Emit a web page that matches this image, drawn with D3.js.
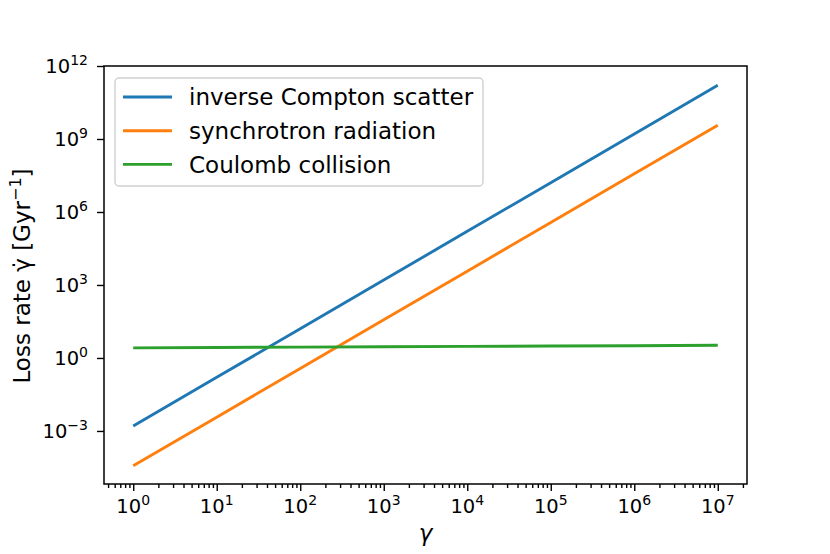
<!DOCTYPE html>
<html>
<head>
<meta charset="utf-8">
<script src="https://cdn.jsdelivr.net/npm/d3@7"></script>
<style>
  body { margin: 0; background: #fff; }
  svg { font-family: "DejaVu Sans", sans-serif; }
</style>
</head>
<body>
<svg id="chart" width="830" height="554"></svg>
<script>
// values, one per decade of gamma
const gammas = [1, 1e1, 1e2, 1e3, 1e4, 1e5, 1e6, 1e7];
const inverseCompton = [1.6e-3, 0.16, 16, 1.6e3, 1.6e5, 1.6e7, 1.6e9, 1.6e11];
const synchrotron = [3.7e-5, 3.7e-3, 0.37, 37, 3.7e3, 3.7e5, 3.7e7, 3.7e9];
const coulomb = [2.6, 2.7, 2.8, 2.9, 3.0, 3.1, 3.2, 3.35];

const seriesNames = ["inverse Compton scatter", "synchrotron radiation", "Coulomb collision"];
const seriesColors = ["#1f77b4", "#ff7f0e", "#2ca02c"];

const xTickExps = [0, 1, 2, 3, 4, 5, 6, 7];
const yTickExps = [-3, 0, 3, 6, 9, 12];

const svg = d3.select("#chart");
const plotLeft = 104, plotRight = 747, plotTop = 66, plotBottom = 484;

const xScale = d3.scaleLog()
  .domain([Math.pow(10, -0.35), Math.pow(10, 7.35)])
  .range([plotLeft, plotRight]);

const yScale = d3.scaleLog()
  .domain([Math.pow(10, -5.18), 1e12])
  .range([plotBottom, plotTop]);

const sup = (e) => String(e).replace("-", "\u2212");

// minor ticks on x: 2..9 x 10^k inside the domain
const minorX = [];
for (let k = -1; k <= 7; k++) {
  for (let m = 2; m <= 9; m++) {
    const v = m * Math.pow(10, k);
    if (v >= xScale.domain()[0] && v <= xScale.domain()[1]) minorX.push(v);
  }
}

// x axis
svg.append("g")
  .attr("transform", `translate(0, ${plotBottom})`)
  .call(d3.axisBottom(xScale).tickValues(xTickExps.map(e => Math.pow(10, e)))
    .tickFormat("").tickSize(7).tickSizeOuter(0))
  .select(".domain").remove();

svg.append("g")
  .attr("transform", `translate(0, ${plotBottom})`)
  .call(d3.axisBottom(xScale).tickValues(minorX).tickFormat("").tickSize(4).tickSizeOuter(0))
  .select(".domain").remove();

// y axis
svg.append("g")
  .attr("transform", `translate(${plotLeft}, 0)`)
  .call(d3.axisLeft(yScale).tickValues(yTickExps.map(e => Math.pow(10, e)))
    .tickFormat("").tickSize(7).tickSizeOuter(0))
  .select(".domain").remove();

svg.selectAll(".tick line").attr("stroke", "#000").attr("stroke-width", 1.4);

// tick labels as 10 with superscript
const xLabels = svg.append("g").selectAll("text")
  .data(xTickExps)
  .enter()
  .append("text")
  .attr("x", e => xScale(Math.pow(10, e)))
  .attr("y", 513)
  .attr("text-anchor", "middle")
  .attr("font-size", 19.5);
xLabels.append("tspan").text("10");
xLabels.append("tspan").attr("dy", -8).attr("font-size", 14).text(e => sup(e));

const yLabels = svg.append("g").selectAll("text")
  .data(yTickExps)
  .enter()
  .append("text")
  .attr("x", 88)
  .attr("y", e => yScale(Math.pow(10, e)) + 7)
  .attr("text-anchor", "end")
  .attr("font-size", 19.5);
yLabels.append("tspan").text("10");
yLabels.append("tspan").attr("dy", -8).attr("font-size", 14).text(e => sup(e));

// data lines
const series = [inverseCompton, synchrotron, coulomb];
const line = d3.line()
  .x((d, i) => xScale(gammas[i]))
  .y(d => yScale(d));

svg.append("g").selectAll("path")
  .data(series)
  .enter()
  .append("path")
  .attr("d", d => line(d))
  .attr("fill", "none")
  .attr("stroke", (d, i) => seriesColors[i])
  .attr("stroke-width", 2.9);

// frame
svg.append("rect")
  .attr("x", plotLeft)
  .attr("y", plotTop)
  .attr("width", plotRight - plotLeft)
  .attr("height", plotBottom - plotTop)
  .attr("fill", "none")
  .attr("stroke", "#000")
  .attr("stroke-width", 1.5);

// legend
const legend = svg.append("g");
legend.append("rect")
  .attr("x", 115)
  .attr("y", 78)
  .attr("width", 368)
  .attr("height", 108)
  .attr("rx", 4)
  .attr("fill", "#fff")
  .attr("fill-opacity", 0.8)
  .attr("stroke", "#d0d0d0")
  .attr("stroke-width", 1.4);

const rows = legend.selectAll("g.row")
  .data(seriesNames)
  .enter()
  .append("g")
  .attr("class", "row")
  .attr("transform", (d, i) => `translate(0, ${97 + i * 33.7})`);
rows.append("line")
  .attr("x1", 123)
  .attr("x2", 172)
  .attr("stroke", (d, i) => seriesColors[i])
  .attr("stroke-width", 2.9);
rows.append("text")
  .attr("x", 189)
  .attr("dy", "0.36em")
  .attr("font-size", 23)
  .text(d => d);

// axis labels
svg.append("text")
  .attr("x", 425.5)
  .attr("y", 541)
  .attr("text-anchor", "middle")
  .attr("font-size", 23)
  .attr("font-style", "italic")
  .text("\u03b3");

const yTitle = svg.append("text")
  .attr("transform", "translate(30, 276) rotate(-90)")
  .attr("text-anchor", "middle")
  .attr("font-size", 23);
yTitle.append("tspan").text("Loss rate \u03b3\u0307 [Gyr");
yTitle.append("tspan").attr("dy", -9).attr("font-size", 16).text("\u22121");
yTitle.append("tspan").attr("dy", 9).text("]");
</script>
</body>
</html>
